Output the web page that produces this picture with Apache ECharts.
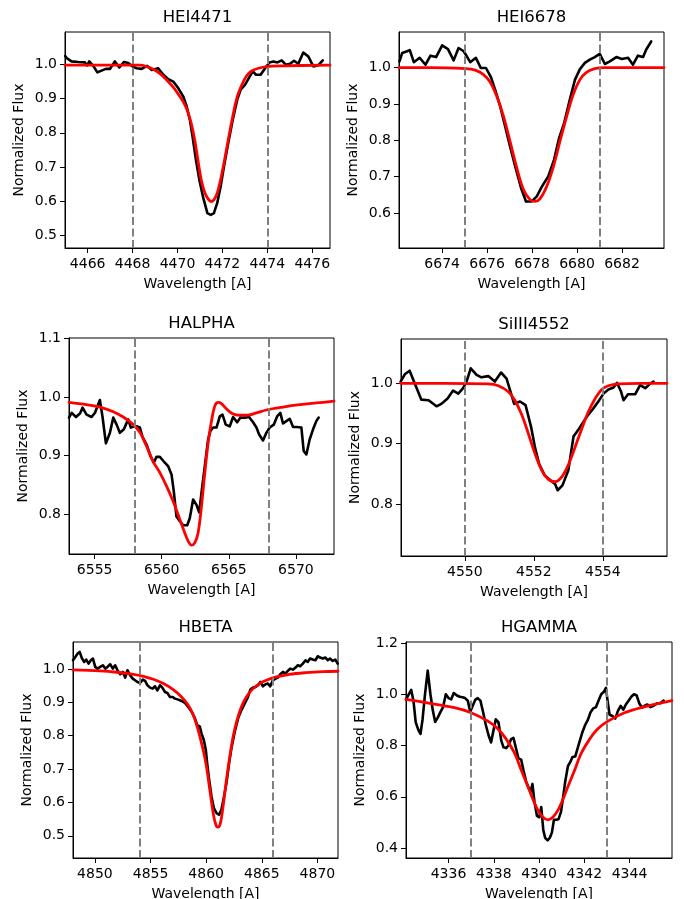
<!DOCTYPE html>
<html>
<head>
<meta charset="utf-8">
<script src="https://cdn.jsdelivr.net/npm/echarts@6/dist/echarts.min.js"></script>
<style>
  html, body { margin: 0; padding: 0; background: #ffffff; }
  #chart { width: 684px; height: 899px; }
</style>
</head>
<body>
<div id="chart"></div>
<script>
// ---- Line profiles: observed spectrum (black) and fitted model (red) ----

// He I 4471
const hei4471ObsWave = [4465.00,4465.06,4465.28,4465.58,4465.88,4465.98,4466.07,4466.25,4466.43,4466.62,4466.81,4466.99,4467.21,4467.41,4467.61,4467.81,4468.00,4468.18,4468.40,4468.65,4468.85,4469.14,4469.37,4469.59,4469.81,4470.03,4470.26,4470.41,4470.55,4470.67,4470.82,4470.97,4471.15,4471.33,4471.48,4471.62,4471.77,4471.92,4472.07,4472.26,4472.46,4472.66,4472.81,4473.01,4473.20,4473.35,4473.50,4473.70,4473.90,4474.09,4474.27,4474.45,4474.64,4474.83,4475.01,4475.19,4475.38,4475.60,4475.83,4476.05,4476.27,4476.47];
const hei4471ObsFlux = [1.025,1.019,1.009,1.007,1.006,0.997,1.009,0.996,0.977,0.982,0.987,0.987,1.009,0.991,1.007,1.004,0.994,0.989,0.987,0.996,0.984,0.989,0.970,0.957,0.950,0.931,0.906,0.877,0.838,0.789,0.721,0.663,0.609,0.565,0.560,0.565,0.595,0.643,0.702,0.770,0.838,0.897,0.926,0.941,0.963,0.980,0.970,0.970,0.989,1.006,1.009,1.006,1.012,0.999,1.002,1.011,1.002,1.035,1.023,0.994,0.998,1.012];
const hei4471ModelWave = [4464.99,4466.60,4468.33,4468.62,4468.92,4469.22,4469.51,4469.81,4470.11,4470.33,4470.48,4470.63,4470.78,4470.93,4471.07,4471.22,4471.37,4471.49,4471.62,4471.77,4471.92,4472.07,4472.26,4472.46,4472.66,4472.86,4473.08,4473.30,4473.60,4473.97,4474.71,4476.79];
const hei4471ModelFlux = [0.998,0.998,0.998,0.994,0.986,0.973,0.955,0.934,0.906,0.882,0.857,0.823,0.774,0.711,0.658,0.624,0.606,0.599,0.604,0.624,0.663,0.712,0.780,0.848,0.906,0.940,0.967,0.981,0.989,0.994,0.996,0.998];
const hei4471Window = [4468, 4474];

// He I 6678
const hei6678ObsWave = [6672.10,6672.22,6672.44,6672.56,6672.74,6673.00,6673.26,6673.48,6673.73,6674.00,6674.26,6674.51,6674.73,6674.96,6675.25,6675.50,6675.72,6675.95,6676.17,6676.36,6676.58,6676.80,6677.02,6677.25,6677.51,6677.73,6677.99,6678.21,6678.43,6678.72,6678.98,6679.20,6679.43,6679.68,6679.91,6680.13,6680.35,6680.57,6680.79,6681.01,6681.24,6681.46,6681.75,6682.00,6682.27,6682.49,6682.71,6682.94,6683.08,6683.30];
const hei6678ObsFlux = [1.017,1.040,1.045,1.048,1.015,1.027,1.008,1.033,1.029,1.061,1.051,1.020,1.054,1.045,1.015,1.027,0.999,0.999,0.974,0.939,0.894,0.839,0.783,0.728,0.669,0.632,0.632,0.646,0.672,0.701,0.747,0.806,0.848,0.912,0.967,0.996,1.013,1.022,1.029,1.038,1.010,1.017,1.029,1.024,1.027,1.008,1.033,1.029,1.050,1.072];
const hei6678ModelWave = [6672.08,6673.50,6675.03,6675.47,6675.84,6676.14,6676.43,6676.73,6677.02,6677.32,6677.62,6677.91,6678.13,6678.35,6678.65,6678.95,6679.24,6679.54,6679.83,6680.13,6680.42,6680.79,6681.24,6683.87];
const hei6678ModelFlux = [1.000,1.000,0.997,0.993,0.981,0.960,0.921,0.866,0.797,0.724,0.664,0.637,0.632,0.639,0.673,0.728,0.797,0.866,0.926,0.967,0.987,0.997,1.000,1.000];
const hei6678Window = [6675, 6681];

// H alpha
const halphaObsWave = [6553.09,6553.29,6553.61,6553.91,6554.10,6554.40,6554.77,6555.02,6555.22,6555.39,6555.59,6555.84,6556.14,6556.39,6556.64,6556.88,6557.18,6557.50,6557.70,6557.95,6558.17,6558.37,6558.57,6558.87,6559.17,6559.41,6559.61,6559.86,6560.16,6560.48,6560.73,6560.90,6561.10,6561.35,6561.60,6561.90,6562.09,6562.34,6562.59,6562.79,6562.96,6563.21,6563.46,6563.63,6563.83,6564.08,6564.33,6564.53,6564.77,6565.07,6565.32,6565.62,6565.87,6566.19,6566.51,6566.81,6567.06,6567.26,6567.55,6567.80,6568.05,6568.35,6568.60,6568.84,6569.04,6569.29,6569.54,6569.79,6570.03,6570.41,6570.58,6570.78,6571.03,6571.28,6571.52,6571.70];
const halphaObsFlux = [0.965,0.973,0.966,0.972,0.982,0.970,0.966,0.973,0.985,0.995,0.966,0.921,0.939,0.965,0.953,0.939,0.945,0.962,0.948,0.950,0.950,0.948,0.932,0.919,0.899,0.888,0.898,0.898,0.890,0.882,0.868,0.839,0.796,0.788,0.781,0.781,0.793,0.825,0.816,0.803,0.836,0.882,0.928,0.942,0.948,0.948,0.967,0.970,0.953,0.950,0.966,0.957,0.965,0.965,0.966,0.957,0.948,0.936,0.926,0.939,0.948,0.953,0.967,0.973,0.955,0.959,0.963,0.949,0.949,0.948,0.908,0.902,0.928,0.945,0.959,0.965];
const halphaModelWave = [6553.09,6554.40,6555.39,6556.39,6557.13,6557.88,6558.37,6558.87,6559.36,6559.86,6560.36,6560.85,6561.35,6561.72,6561.97,6562.22,6562.46,6562.71,6562.96,6563.21,6563.46,6563.71,6563.96,6564.20,6564.45,6564.82,6565.32,6565.82,6566.31,6567.06,6567.80,6569.04,6570.28,6571.52,6572.84];
const halphaModelFlux = [0.991,0.987,0.983,0.975,0.966,0.953,0.940,0.916,0.890,0.871,0.848,0.822,0.791,0.768,0.754,0.747,0.751,0.768,0.813,0.870,0.922,0.959,0.985,0.991,0.989,0.980,0.971,0.969,0.969,0.973,0.978,0.983,0.987,0.990,0.993];
const halphaWindow = [6558, 6568];

// Si III 4552
const siiii4552ObsWave = [4548.14,4548.26,4548.40,4548.57,4548.74,4548.95,4549.18,4549.32,4549.50,4549.66,4549.81,4549.95,4550.05,4550.17,4550.34,4550.48,4550.68,4550.87,4551.05,4551.21,4551.31,4551.43,4551.60,4551.76,4551.92,4552.03,4552.15,4552.31,4552.47,4552.62,4552.69,4552.83,4553.00,4553.15,4553.31,4553.54,4553.73,4553.87,4554.02,4554.16,4554.31,4554.41,4554.53,4554.60,4554.73,4554.94,4555.08,4555.23,4555.38,4555.47];
const siiii4552ObsFlux = [1.003,1.015,1.021,0.997,0.973,0.972,0.962,0.966,0.975,0.988,0.983,0.992,1.003,1.025,1.014,1.010,1.012,1.003,1.018,1.008,0.989,0.966,0.970,0.964,0.928,0.895,0.867,0.848,0.840,0.833,0.823,0.831,0.856,0.912,0.925,0.945,0.959,0.970,0.983,0.990,0.993,1.001,0.986,0.972,0.982,0.982,0.997,0.992,1.000,1.003];
const siiii4552ModelWave = [4548.14,4549.40,4550.68,4550.97,4551.26,4551.45,4551.65,4551.84,4552.03,4552.23,4552.42,4552.62,4552.81,4553.00,4553.20,4553.39,4553.58,4553.78,4553.97,4554.16,4554.46,4555.10,4555.86];
const siiii4552ModelFlux = [1.000,1.000,0.999,0.996,0.986,0.972,0.948,0.917,0.884,0.856,0.841,0.837,0.845,0.865,0.895,0.925,0.953,0.975,0.990,0.996,0.999,1.000,1.000];
const siiii4552Window = [4550, 4554];

// H beta
const hbetaObsWave = [4848.03,4848.24,4848.45,4848.63,4848.84,4849.04,4849.22,4849.43,4849.64,4849.82,4850.03,4850.24,4850.48,4850.72,4850.93,4851.13,4851.37,4851.61,4851.82,4852.03,4852.27,4852.51,4852.72,4852.93,4853.16,4853.40,4853.61,4853.82,4854.06,4854.30,4854.51,4854.72,4854.96,4855.19,4855.40,4855.61,4855.85,4856.06,4856.30,4856.51,4856.75,4856.99,4857.19,4857.49,4857.79,4858.09,4858.39,4858.69,4858.99,4859.19,4859.43,4859.58,4859.79,4859.97,4860.09,4860.27,4860.48,4860.69,4860.93,4861.16,4861.37,4861.58,4861.82,4862.06,4862.27,4862.57,4862.87,4863.16,4863.46,4863.76,4863.97,4864.21,4864.45,4864.66,4864.87,4865.10,4865.34,4865.55,4865.76,4866.00,4866.24,4866.45,4866.66,4866.90,4867.13,4867.34,4867.55,4867.79,4868.03,4868.24,4868.45,4868.69,4868.93,4869.13,4869.34,4869.58,4869.82,4870.03,4870.24,4870.48,4870.72,4870.93,4871.13,4871.37,4871.61,4871.82];
const hbetaObsFlux = [1.026,1.036,1.046,1.051,1.031,1.021,1.028,1.016,1.026,1.031,1.006,1.001,1.006,1.011,1.001,1.006,1.014,1.001,1.011,0.996,0.984,0.991,0.974,0.996,0.981,0.971,0.966,0.961,0.958,0.968,0.964,0.951,0.944,0.941,0.948,0.936,0.951,0.944,0.931,0.928,0.916,0.916,0.911,0.908,0.904,0.898,0.886,0.872,0.852,0.832,0.827,0.807,0.787,0.757,0.717,0.667,0.618,0.583,0.568,0.563,0.578,0.613,0.657,0.717,0.762,0.812,0.852,0.876,0.896,0.916,0.938,0.944,0.946,0.951,0.961,0.948,0.954,0.956,0.948,0.966,0.971,0.974,0.984,0.991,0.986,0.994,1.001,0.998,1.004,1.011,1.008,1.016,1.026,1.021,1.031,1.028,1.026,1.038,1.034,1.031,1.034,1.026,1.031,1.024,1.028,1.016];
const hbetaModelWave = [4848.03,4850.48,4851.97,4853.46,4854.36,4855.25,4856.15,4857.04,4857.79,4858.39,4858.84,4859.28,4859.73,4860.03,4860.33,4860.63,4860.87,4861.07,4861.28,4861.52,4861.82,4862.12,4862.42,4862.78,4863.16,4863.61,4864.21,4864.81,4865.40,4866.30,4867.49,4868.99,4870.48,4871.85];
const hbetaModelFlux = [0.997,0.994,0.990,0.984,0.978,0.969,0.956,0.938,0.916,0.891,0.862,0.817,0.757,0.707,0.637,0.568,0.533,0.526,0.538,0.588,0.667,0.737,0.797,0.847,0.886,0.916,0.941,0.956,0.966,0.976,0.984,0.989,0.992,0.993];
const hbetaWindow = [4854, 4866];

// H gamma
const hgammaObsWave = [4334.12,4334.23,4334.35,4334.45,4334.55,4334.67,4334.76,4334.85,4334.96,4335.08,4335.20,4335.30,4335.41,4335.53,4335.64,4335.76,4335.88,4336.00,4336.12,4336.23,4336.37,4336.50,4336.62,4336.73,4336.85,4336.96,4337.07,4337.18,4337.29,4337.41,4337.53,4337.65,4337.77,4337.88,4337.99,4338.09,4338.21,4338.33,4338.43,4338.55,4338.65,4338.77,4338.87,4338.98,4339.09,4339.21,4339.32,4339.43,4339.54,4339.63,4339.71,4339.80,4339.91,4340.01,4340.10,4340.19,4340.27,4340.38,4340.48,4340.57,4340.66,4340.76,4340.86,4340.97,4341.07,4341.16,4341.28,4341.38,4341.48,4341.60,4341.71,4341.81,4341.93,4342.04,4342.16,4342.28,4342.40,4342.52,4342.63,4342.75,4342.87,4342.96,4343.03,4343.12,4343.25,4343.37,4343.49,4343.61,4343.73,4343.84,4343.96,4344.08,4344.20,4344.32,4344.43,4344.55,4344.67,4344.79,4344.92,4345.07,4345.22,4345.36,4345.51];
const hgammaObsFlux = [0.980,0.998,1.017,0.975,0.890,0.860,0.845,0.900,1.000,1.092,1.000,0.940,0.892,0.910,0.930,0.950,1.000,0.985,0.980,1.005,0.995,0.990,0.988,0.985,0.975,0.932,0.955,0.978,0.985,0.975,0.930,0.880,0.840,0.812,0.860,0.902,0.890,0.820,0.793,0.790,0.800,0.825,0.830,0.790,0.750,0.745,0.700,0.660,0.635,0.620,0.650,0.580,0.525,0.520,0.560,0.470,0.440,0.430,0.440,0.460,0.510,0.510,0.512,0.540,0.600,0.660,0.720,0.735,0.755,0.757,0.790,0.820,0.855,0.880,0.900,0.930,0.945,0.950,0.975,1.000,1.010,1.025,0.975,0.920,0.915,0.905,0.935,0.955,0.940,0.960,0.975,0.990,1.000,0.995,0.965,0.948,0.955,0.960,0.950,0.955,0.965,0.965,0.975];
const hgammaModelWave = [4334.12,4334.94,4336.26,4337.00,4337.74,4338.18,4338.55,4338.92,4339.21,4339.51,4339.73,4339.95,4340.18,4340.40,4340.61,4340.84,4341.06,4341.28,4341.58,4341.87,4342.24,4342.60,4343.05,4343.78,4344.52,4345.88];
const hgammaModelFlux = [0.980,0.968,0.948,0.928,0.895,0.865,0.825,0.770,0.705,0.640,0.590,0.548,0.520,0.510,0.520,0.548,0.590,0.640,0.705,0.770,0.825,0.865,0.895,0.928,0.948,0.975];
const hgammaWindow = [4337, 4343];

// ---- Tick values ----
const hei4471XTicks = [4466, 4468, 4470, 4472, 4474, 4476];
const hei4471YTicks = [0.5, 0.6, 0.7, 0.8, 0.9, 1.0];
const hei6678XTicks = [6674, 6676, 6678, 6680, 6682];
const hei6678YTicks = [0.6, 0.7, 0.8, 0.9, 1.0];
const halphaXTicks = [6555, 6560, 6565, 6570];
const halphaYTicks = [0.8, 0.9, 1.0, 1.1];
const siiii4552XTicks = [4550, 4552, 4554];
const siiii4552YTicks = [0.8, 0.9, 1.0];
const hbetaXTicks = [4850, 4855, 4860, 4865, 4870];
const hbetaYTicks = [0.5, 0.6, 0.7, 0.8, 0.9, 1.0];
const hgammaXTicks = [4336, 4338, 4340, 4342, 4344];
const hgammaYTicks = [0.4, 0.6, 0.8, 1.0, 1.2];

const lineNames = ['HEI4471', 'HEI6678', 'HALPHA', 'SiIII4552', 'HBETA', 'HGAMMA'];
const xAxisTitle = 'Wavelength [A]';
const yAxisTitle = 'Normalized Flux';

// ---- Panel assembly ----
const panels = [
  { obsWave: hei4471ObsWave, obsFlux: hei4471ObsFlux, modelWave: hei4471ModelWave, modelFlux: hei4471ModelFlux, win: hei4471Window, xTicks: hei4471XTicks, yTicks: hei4471YTicks },
  { obsWave: hei6678ObsWave, obsFlux: hei6678ObsFlux, modelWave: hei6678ModelWave, modelFlux: hei6678ModelFlux, win: hei6678Window, xTicks: hei6678XTicks, yTicks: hei6678YTicks },
  { obsWave: halphaObsWave, obsFlux: halphaObsFlux, modelWave: halphaModelWave, modelFlux: halphaModelFlux, win: halphaWindow, xTicks: halphaXTicks, yTicks: halphaYTicks },
  { obsWave: siiii4552ObsWave, obsFlux: siiii4552ObsFlux, modelWave: siiii4552ModelWave, modelFlux: siiii4552ModelFlux, win: siiii4552Window, xTicks: siiii4552XTicks, yTicks: siiii4552YTicks },
  { obsWave: hbetaObsWave, obsFlux: hbetaObsFlux, modelWave: hbetaModelWave, modelFlux: hbetaModelFlux, win: hbetaWindow, xTicks: hbetaXTicks, yTicks: hbetaYTicks },
  { obsWave: hgammaObsWave, obsFlux: hgammaObsFlux, modelWave: hgammaModelWave, modelFlux: hgammaModelFlux, win: hgammaWindow, xTicks: hgammaXTicks, yTicks: hgammaYTicks }
];

// Plot-box placement (px) and axis extents for each panel
const frames = [
  { left: 65,  top: 32,  width: 265, height: 216, xMin: 4464.99, xMax: 4476.79, yMin: 0.463, yMax: 1.095 },
  { left: 399, top: 32,  width: 265, height: 216, xMin: 6672.08, xMax: 6683.87, yMin: 0.504, yMax: 1.098 },
  { left: 69,  top: 338, width: 265, height: 216, xMin: 6553.09, xMax: 6572.84, yMin: 0.732, yMax: 1.101 },
  { left: 401, top: 339, width: 266, height: 217, xMin: 4548.15, xMax: 4555.86, yMin: 0.714, yMax: 1.0735 },
  { left: 73,  top: 642, width: 265, height: 216, xMin: 4848.03, xMax: 4871.85, yMin: 0.4334, yMax: 1.0807 },
  { left: 406, top: 642, width: 266, height: 216, xMin: 4334.12, xMax: 4345.88, yMin: 0.361, yMax: 1.2039 }
];

const FONT = 'DejaVu Sans';
const INK = '#000000';

const zip = (xs, ys) => xs.map((x, i) => [x, ys[i]]);

const grids = [], xAxes = [], yAxes = [], series = [], graphics = [];

panels.forEach((p, i) => {
  const f = frames[i];
  grids.push({
    left: f.left, top: f.top, width: f.width, height: f.height,
    show: true, borderColor: INK, borderWidth: 1, backgroundColor: 'transparent',
    containLabel: false
  });
  xAxes.push({
    type: 'value', gridIndex: i, min: f.xMin, max: f.xMax,
    axisLine: { show: true, onZero: false, lineStyle: { color: INK, width: 1 } },
    axisTick: { show: true, inside: false, length: 5, customValues: p.xTicks, lineStyle: { color: INK, width: 1 } },
    axisLabel: { customValues: p.xTicks, margin: 9, fontSize: 14, fontFamily: FONT, color: INK, formatter: v => String(Math.round(v)) },
    splitLine: { show: false }
  });
  yAxes.push({
    type: 'value', gridIndex: i, min: f.yMin, max: f.yMax,
    axisLine: { show: true, onZero: false, lineStyle: { color: INK, width: 1 } },
    axisTick: { show: true, inside: false, length: 5, customValues: p.yTicks, lineStyle: { color: INK, width: 1 } },
    axisLabel: { customValues: p.yTicks, margin: 8, fontSize: 14, fontFamily: FONT, color: INK, formatter: v => v.toFixed(1) },
    splitLine: { show: false }
  });
  series.push({
    type: 'line', xAxisIndex: i, yAxisIndex: i,
    data: zip(p.obsWave, p.obsFlux),
    showSymbol: false, symbol: 'none', clip: true, z: 2,
    lineStyle: { color: '#000000', width: 2.6, join: 'round', cap: 'round' }
  });
  series.push({
    type: 'line', xAxisIndex: i, yAxisIndex: i,
    data: zip(p.modelWave, p.modelFlux),
    showSymbol: false, symbol: 'none', clip: true, smooth: 0.35, z: 3,
    lineStyle: { color: '#ff0000', width: 2.8, join: 'round', cap: 'round' },
    markLine: {
      silent: true, symbol: ['none', 'none'], animation: false,
      label: { show: false },
      lineStyle: { color: '#808080', width: 2, type: [8, 3.5] },
      data: p.win.map(w => ({ xAxis: w }))
    }
  });

  const cx = f.left + f.width / 2;
  const cy = f.top + f.height / 2;
  graphics.push({
    type: 'text', x: cx, y: f.top - 14,
    style: { text: lineNames[i], font: '16.5px "' + FONT + '"', fill: INK, align: 'center', verticalAlign: 'middle', textAlign: 'center', textVerticalAlign: 'middle' }
  });
  graphics.push({
    type: 'text', x: cx, y: f.top + f.height + 36.5,
    style: { text: xAxisTitle, font: '14px "' + FONT + '"', fill: INK, align: 'center', verticalAlign: 'middle', textAlign: 'center', textVerticalAlign: 'middle' }
  });
  graphics.push({
    type: 'text', x: f.left - 45.5, y: cy, rotation: Math.PI / 2,
    style: { text: yAxisTitle, font: '14px "' + FONT + '"', fill: INK, align: 'center', verticalAlign: 'middle', textAlign: 'center', textVerticalAlign: 'middle' }
  });
});

const chart = echarts.init(document.getElementById('chart'), null, { renderer: 'canvas' });
chart.setOption({
  animation: false,
  backgroundColor: '#ffffff',
  grid: grids,
  xAxis: xAxes,
  yAxis: yAxes,
  series: series,
  graphic: graphics
});
</script>
</body>
</html>
